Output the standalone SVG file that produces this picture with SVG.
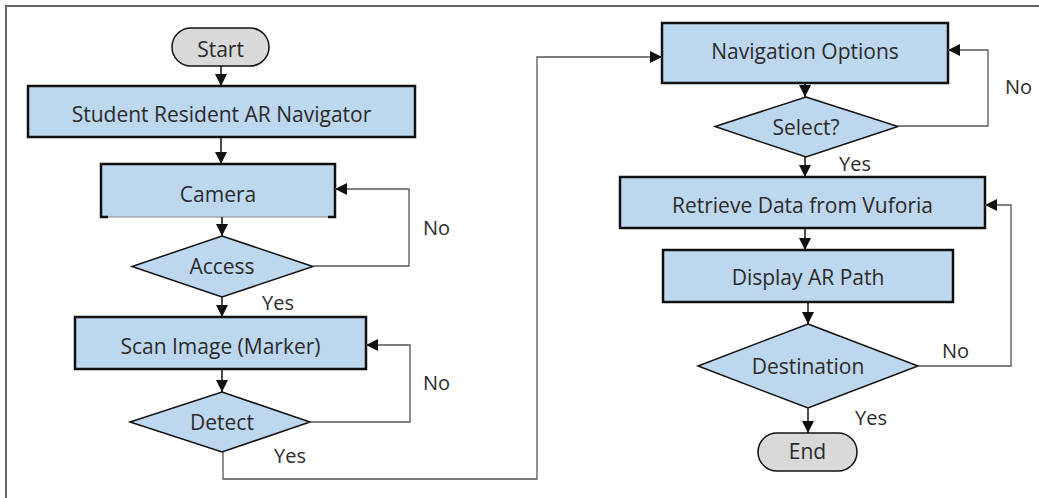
<svg xmlns="http://www.w3.org/2000/svg" width="1039" height="498" viewBox="0 0 1039 498">
  <style>
    .box { fill: #bdd7ee; stroke: #111; stroke-width: 2.5; }
    .dec { fill: #bdd7ee; stroke: #111; stroke-width: 1.5; }
    .term { fill: #d9d9d9; stroke: #111; stroke-width: 1.5; }
    .lbl { font-family: "Open Sans", "Liberation Sans", sans-serif; font-size: 21px; fill: #2b2b2b; text-anchor: middle; }
    .tag { font-family: "Open Sans", "Liberation Sans", sans-serif; font-size: 20px; fill: #2b2b2b; }
    .flow { fill: none; stroke: #111; stroke-width: 1.5; marker-end: url(#arrow); }
    .loop { fill: none; stroke: #555; stroke-width: 1.3; marker-end: url(#arrow); }
  </style>
  <defs>
    <marker id="arrow" viewBox="0 0 10 10" refX="10" refY="5" markerWidth="12" markerHeight="12" markerUnits="userSpaceOnUse" orient="auto">
      <path d="M0,0 L10,5 L0,10 z" fill="#111"/>
    </marker>
  </defs>

  <rect width="1039" height="498" fill="#fff"/>
  <!-- frame -->
  <path d="M6,498 V6 H1039" fill="none" stroke="#666" stroke-width="2"/>

  <!-- left column -->
  <g id="start">
    <rect class="term" x="172" y="28" width="97" height="38" rx="19"/>
    <text class="lbl" x="220.5" y="57">Start</text>
  </g>
  <g id="navigator">
    <rect class="box" x="28" y="86" width="387" height="51"/>
    <text class="lbl" x="221.5" y="122">Student Resident AR Navigator</text>
  </g>
  <g id="camera">
    <rect x="101" y="164" width="234" height="53" fill="#bdd7ee"/>
    <path d="M108,217 H101 V164 H335 V217 H328" fill="none" stroke="#111" stroke-width="2.5"/>
    <path d="M108,217 H328" stroke="#888" stroke-width="1"/>
    <text class="lbl" x="218" y="202">Camera</text>
  </g>
  <g id="access">
    <polygon class="dec" points="222,236 313,266.5 222,297 132,266.5"/>
    <text class="lbl" x="222" y="274">Access</text>
  </g>
  <g id="scan">
    <rect class="box" x="75" y="317" width="291" height="52"/>
    <text class="lbl" x="220.5" y="354">Scan Image (Marker)</text>
  </g>
  <g id="detect">
    <polygon class="dec" points="222,392 310,422 222,452 130,422"/>
    <text class="lbl" x="222" y="430">Detect</text>
  </g>

  <!-- right column -->
  <g id="options">
    <rect class="box" x="662" y="23" width="286" height="60"/>
    <text class="lbl" x="805" y="59">Navigation Options</text>
  </g>
  <g id="select">
    <polygon class="dec" points="806,97 898,126.5 806,157 715,126.5"/>
    <text class="lbl" x="806" y="135">Select?</text>
  </g>
  <g id="retrieve">
    <rect class="box" x="620" y="177" width="365" height="51"/>
    <text class="lbl" x="802.5" y="213">Retrieve Data from Vuforia</text>
  </g>
  <g id="display">
    <rect class="box" x="663" y="250" width="290" height="52"/>
    <text class="lbl" x="808" y="285">Display AR Path</text>
  </g>
  <g id="destination">
    <polygon class="dec" points="808,324 918,366 808,408 698,366"/>
    <text class="lbl" x="808" y="374">Destination</text>
  </g>
  <g id="end">
    <rect class="term" x="758" y="433" width="99" height="38" rx="19"/>
    <text class="lbl" x="807.5" y="459">End</text>
  </g>

  <!-- connectors -->
  <g id="connectors">
    <path class="flow" d="M221,66 V86"/>
    <path class="flow" d="M221,137 V164"/>
    <path class="flow" d="M222,217 V236"/>
    <path class="loop" d="M313,266 H409 V189 H335"/>
    <path class="flow" d="M222,297 V317"/>
    <path class="flow" d="M222,369 V392"/>
    <path class="loop" d="M310,422 H410 V345 H366"/>
    <path class="loop" d="M223,452 V479 H537 V57 H662"/>
    <path class="flow" d="M805,83 V97"/>
    <path class="loop" d="M898,126 H988 V50 H948"/>
    <path class="flow" d="M805,157 V177"/>
    <path class="flow" d="M805,228 V250"/>
    <path class="flow" d="M808,302 V324"/>
    <path class="loop" d="M918,366 H1011 V205 H985"/>
    <path class="flow" d="M808,408 V433"/>

    <text class="tag" x="423" y="235">No</text>
    <text class="tag" x="262" y="310">Yes</text>
    <text class="tag" x="423" y="390">No</text>
    <text class="tag" x="274" y="463">Yes</text>
    <text class="tag" x="1005" y="94">No</text>
    <text class="tag" x="839" y="171">Yes</text>
    <text class="tag" x="942" y="358">No</text>
    <text class="tag" x="855" y="425">Yes</text>
  </g>
</svg>
